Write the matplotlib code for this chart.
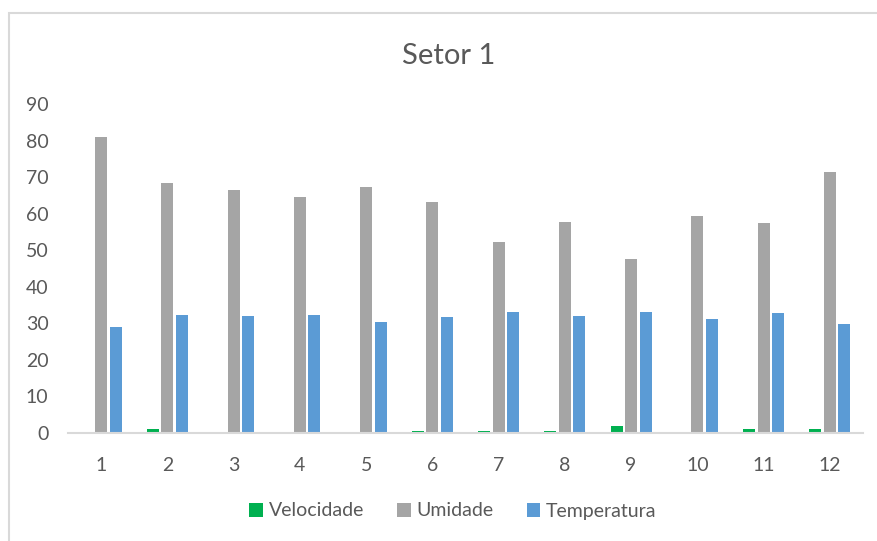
import numpy as np
import matplotlib.pyplot as plt
from matplotlib.patches import Rectangle

# data
meses = [str(i) for i in range(1, 13)]
velocidade = [0, 1.0, 0, 0, 0, 0.5, 0.5, 0.5, 1.8, 0, 1.0, 1.0]
umidade = [81.0, 68.5, 66.6, 64.6, 67.2, 63.3, 52.2, 57.8, 47.7, 59.4, 57.5, 71.5]
temperatura = [29.1, 32.3, 32.0, 32.3, 30.4, 31.7, 33.0, 32.0, 33.0, 31.1, 32.7, 29.8]

cor_vel = "#00B050"
cor_umi = "#A5A5A5"
cor_temp = "#5B9BD5"
cor_texto = "#595959"

plt.rcParams['font.family'] = ['Lato', 'DejaVu Sans']

fig = plt.figure(figsize=(8.77, 5.41), dpi=100)
ax = fig.add_axes([68 / 877, 1 - 433 / 541, (863 - 68) / 877, (433 - 104) / 541])

x = np.arange(len(meses))
w = 0.18
step = 0.22
ax.bar(x - step, velocidade, w, color=cor_vel, label="Velocidade")
ax.bar(x, umidade, w, color=cor_umi, label="Umidade")
ax.bar(x + step, temperatura, w, color=cor_temp, label="Temperatura")

ax.set_xlim(-0.5, len(meses) - 0.5)
ax.set_ylim(0, 90)
ax.set_yticks(range(0, 91, 10))
ax.set_xticks(x)
ax.set_xticklabels(meses)

for s in ["top", "right", "left"]:
    ax.spines[s].set_visible(False)
ax.spines["bottom"].set_color("#D9D9D9")
ax.spines["bottom"].set_linewidth(1.5)
ax.tick_params(axis="both", length=0, labelsize=14, colors=cor_texto)
ax.tick_params(axis="y", pad=14)
ax.tick_params(axis="x", pad=17)

fig.text(449 / 877, 1 - 56 / 541, "Setor 1", ha="center", va="center",
         fontsize=21, color=cor_texto)

fig.legend(loc="center", bbox_to_anchor=(453 / 877, 1 - 511 / 541), ncol=3,
           frameon=False, fontsize=14, labelcolor=cor_texto,
           handlelength=0.7, handleheight=0.7, handletextpad=0.3, columnspacing=1.7)

# chart border (only left and top visible in the crop)
fig.patches.append(Rectangle((9 / 877, -0.1), 1.2, 1 - 13 / 541 + 0.1,
                             transform=fig.transFigure, fill=False,
                             edgecolor="#D9D9D9", linewidth=1.5))

fig.savefig("out.png", dpi=100)
